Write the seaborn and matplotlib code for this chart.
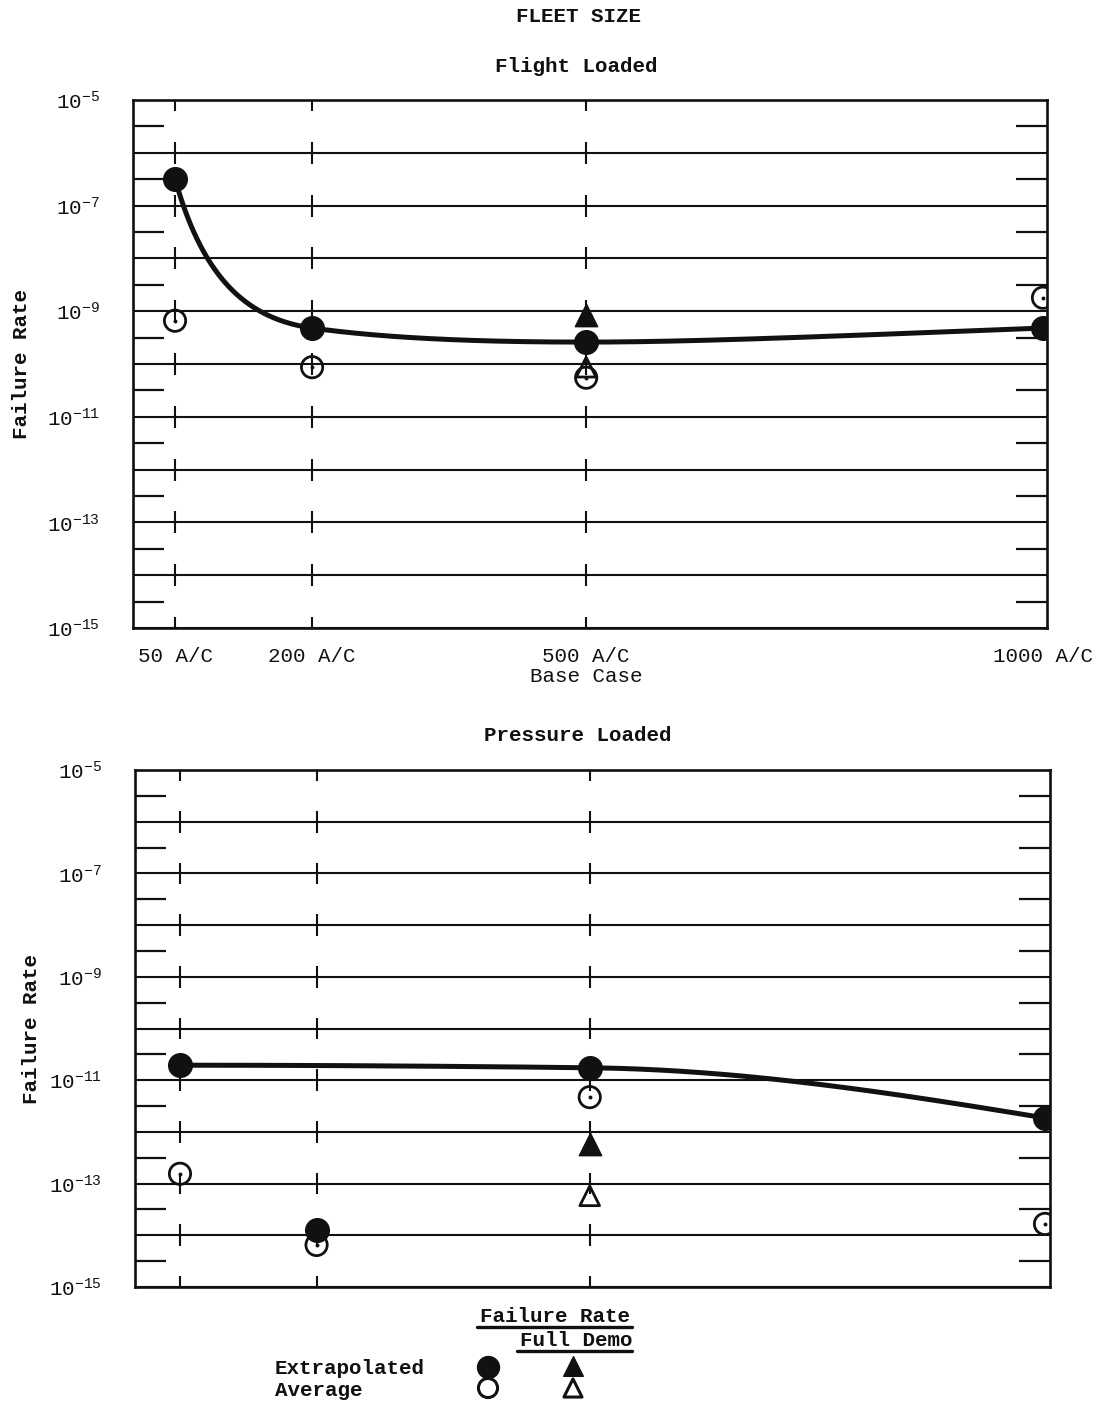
import numpy as np
import pandas as pd
import seaborn as sns
import matplotlib
matplotlib.use("Agg")
import matplotlib.pyplot as plt
from matplotlib.ticker import FixedLocator, FuncFormatter, NullFormatter

# ---- data -------------------------------------------------------------
fleet_sizes = [50, 200, 500, 1000]
fleet_labels = ["50 A/C", "200 A/C", "500 A/C\nBase Case", "1000 A/C"]

flight_extrapolated = [3.2e-7, 4.8e-10, 2.6e-10, 4.8e-10]
flight_average = [6.6e-10, 8.7e-11, 5.5e-11, 1.8e-9]
flight_demo_sizes = [500]
flight_demo_extrapolated = [8.3e-10]
flight_demo_average = [8.7e-11]
flight_curve_sizes = [50, 200, 500, 1000]

pressure_extrapolated = [1.95e-11, 1.26e-14, 1.74e-11, 1.86e-12]
pressure_average = [1.55e-13, 6.5e-15, 4.7e-12, 1.66e-14]
pressure_demo_sizes = [500]
pressure_demo_extrapolated = [5.9e-13]
pressure_demo_average = [5.8e-14]
pressure_curve_sizes = [50, 500, 1000]

guide_sizes = [50, 200, 500]
decades = np.arange(-15, -4)

# ---- style ------------------------------------------------------------
sns.set_theme(style="white")
plt.rcParams["font.family"] = ["Liberation Mono", "DejaVu Sans Mono"]
plt.rcParams["mathtext.fontset"] = "custom"
plt.rcParams["mathtext.rm"] = "Liberation Mono"
plt.rcParams["mathtext.it"] = "Liberation Mono"
plt.rcParams["mathtext.bf"] = "Liberation Mono:bold"
plt.rcParams["text.color"] = "black"

INK = "#111111"
FS = 15


def pchip(x, y, xs):
    """Monotone cubic Hermite interpolation."""
    x = np.asarray(x, float)
    y = np.asarray(y, float)
    h = np.diff(x)
    delta = np.diff(y) / h
    n = len(x)
    d = np.zeros(n)
    for k in range(1, n - 1):
        if delta[k - 1] * delta[k] > 0:
            w1 = 2 * h[k] + h[k - 1]
            w2 = h[k] + 2 * h[k - 1]
            d[k] = (w1 + w2) / (w1 / delta[k - 1] + w2 / delta[k])

    def end(h0, h1, d0, d1):
        dd = ((2 * h0 + h1) * d0 - h0 * d1) / (h0 + h1)
        if np.sign(dd) != np.sign(d0):
            dd = 0.0
        elif np.sign(d0) != np.sign(d1) and abs(dd) > abs(3 * d0):
            dd = 3 * d0
        return dd

    if n == 2:
        d[:] = delta[0]
    else:
        d[0] = end(h[0], h[1], delta[0], delta[1])
        d[-1] = end(h[-1], h[-2], delta[-1], delta[-2])
    idx = np.clip(np.searchsorted(x, xs) - 1, 0, n - 2)
    t = (xs - x[idx]) / h[idx]
    h00 = 2 * t**3 - 3 * t**2 + 1
    h10 = t**3 - 2 * t**2 + t
    h01 = -2 * t**3 + 3 * t**2
    h11 = t**3 - t**2
    return (h00 * y[idx] + h10 * h[idx] * d[idx]
            + h01 * y[idx + 1] + h11 * h[idx] * d[idx + 1])


def faired_curve(sizes, rates, curve_sizes, log_x):
    lookup = dict(zip(sizes, rates))
    fx = np.log10 if log_x else (lambda v: np.asarray(v, float))
    ix = (lambda v: 10**v) if log_x else (lambda v: v)
    cx = fx(curve_sizes)
    cy = np.log10([lookup[s] for s in curve_sizes])
    xs = np.linspace(cx[0], cx[-1], 400)
    return pd.DataFrame({"size": ix(xs), "rate": 10**pchip(cx, cy, xs)})


def draw_panel(ax, extrap, avg, demo_sizes, demo_ext, demo_avg, curve_sizes,
               log_x_curve, xlim, show_xlabels):
    ax.set_yscale("log")
    ax.set_ylim(1e-15, 1e-5)
    ax.set_xlim(*xlim)

    # decade grid
    for k in decades:
        ax.axhline(10.0**k, color=INK, lw=1.5, zorder=1)

    # dashed guides at each fleet size
    for s in guide_sizes:
        ax.vlines([s] * len(decades), 10.0**(decades - 0.21),
                  10.0**(decades + 0.21), color=INK, lw=1.5, zorder=1)

    # faired curve through the extrapolated points
    curve = faired_curve(fleet_sizes, extrap, curve_sizes, log_x_curve)
    sns.lineplot(data=curve, x="size", y="rate", ax=ax, color=INK, lw=3.6,
                 sort=False, estimator=None, zorder=3)

    pts = pd.DataFrame({"size": fleet_sizes, "ext": extrap, "avg": avg})
    demo = pd.DataFrame({"size": demo_sizes, "ext": demo_ext, "avg": demo_avg})

    sns.scatterplot(data=pts, x="size", y="ext", ax=ax, marker="o", s=290,
                    color=INK, edgecolor=INK, linewidth=1, zorder=5)
    sns.scatterplot(data=pts, x="size", y="avg", ax=ax, marker="o", s=235,
                    facecolor="none", edgecolor=INK, linewidth=2.0, zorder=5)
    sns.scatterplot(data=pts, x="size", y="avg", ax=ax, marker="o", s=8,
                    color=INK, edgecolor=INK, linewidth=0, zorder=5)
    sns.scatterplot(data=demo, x="size", y="ext", ax=ax, marker="^", s=260,
                    color=INK, edgecolor=INK, linewidth=1, zorder=5)
    sns.scatterplot(data=demo, x="size", y="avg", ax=ax, marker="^", s=200,
                    facecolor="none", edgecolor=INK, linewidth=2.0, zorder=4)

    # axes decoration
    for sp in ax.spines.values():
        sp.set_visible(True)
        sp.set_color(INK)
        sp.set_linewidth(1.9)
    ax.yaxis.set_major_locator(FixedLocator([10.0**k for k in range(-15, -4, 2)]))
    ax.yaxis.set_major_formatter(
        FuncFormatter(lambda v, p: r"$10^{%d}$" % round(np.log10(v))))
    ax.yaxis.set_minor_locator(FixedLocator(10.0**(decades[:-1] + 0.5)))
    ax.yaxis.set_minor_formatter(NullFormatter())
    ax.tick_params(axis="y", which="major", length=0, pad=24, labelsize=FS,
                   colors=INK)
    ax.tick_params(axis="y", which="minor", direction="in", length=22,
                   width=1.6, left=True, right=True, colors=INK)
    ax.set_xticks(fleet_sizes)
    if show_xlabels:
        ax.set_xticklabels(fleet_labels, fontsize=FS, linespacing=1.05)
    else:
        ax.set_xticklabels([])
    ax.tick_params(axis="x", length=0, pad=14, colors=INK)
    ax.set_xlabel("")
    ax.set_ylabel("Failure Rate", fontsize=FS, fontweight="bold", color=INK)


W, H = 1099, 1406
fig = plt.figure(figsize=(W / 100, H / 100), dpi=100)
fig.patch.set_facecolor("white")

ax_top = fig.add_axes([133 / W, 1 - 628 / H, 914 / W, 528 / H])
ax_bot = fig.add_axes([135 / W, 1 - 1287 / H, 915 / W, 517 / H])

draw_panel(ax_top, flight_extrapolated, flight_average, flight_demo_sizes,
           flight_demo_extrapolated, flight_demo_average, flight_curve_sizes,
           True, (4, 1004.4), True)
draw_panel(ax_bot, pressure_extrapolated, pressure_average, pressure_demo_sizes,
           pressure_demo_extrapolated, pressure_demo_average,
           pressure_curve_sizes, False, (0.6, 1005.5), False)
ax_top.yaxis.set_label_coords(-0.112, 0.5)
ax_bot.yaxis.set_label_coords(-0.103, 0.5)

# titles
fig.text(578 / W, 1 - 17 / H, "FLEET SIZE", ha="center", va="center",
         fontsize=FS, fontweight="bold", color=INK)
fig.text(576 / W, 1 - 66 / H, "Flight Loaded", ha="center", va="center",
         fontsize=FS, fontweight="bold", color=INK)
fig.text(578 / W, 1 - 736 / H, "Pressure Loaded", ha="center", va="center",
         fontsize=FS, fontweight="bold", color=INK)

# key
key = fig.add_axes([0, 0, 1, 1])
key.set_xlim(0, W)
key.set_ylim(H, 0)
key.axis("off")
key.text(555, 1316, "Failure Rate", ha="center", va="center", fontsize=FS,
         fontweight="bold", color=INK)
key.plot([477, 632], [1327, 1327], color=INK, lw=2.4)
key.text(632, 1340, "Full Demo", ha="right", va="center", fontsize=FS,
         fontweight="bold", color=INK)
key.plot([517, 632], [1351, 1351], color=INK, lw=2.4)
key.text(275, 1368, "Extrapolated", ha="left", va="center", fontsize=FS,
         fontweight="bold", color=INK)
key.text(275, 1390, "Average", ha="left", va="center", fontsize=FS,
         fontweight="bold", color=INK)
key.scatter([488], [1367], marker="o", s=250, color=INK)
key.scatter([488], [1388], marker="o", s=190, facecolor="none",
            edgecolor=INK, linewidth=2.2)
key.scatter([573], [1366], marker="^", s=200, color=INK)
key.scatter([573], [1388], marker="^", s=170, facecolor="none",
            edgecolor=INK, linewidth=2.2)

fig.savefig("out.png", dpi=100, facecolor="white")
